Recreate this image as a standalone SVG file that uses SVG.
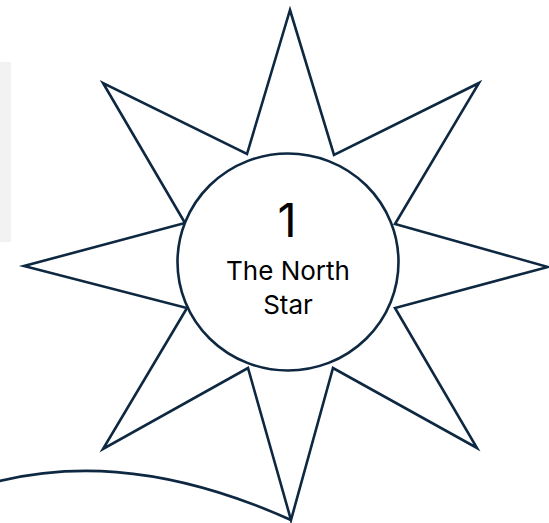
<svg xmlns="http://www.w3.org/2000/svg" width="549" height="523" viewBox="0 0 549 523">
<style>
.ln{fill:none;stroke:#0e2841;stroke-width:2.6;stroke-linejoin:miter}
.fl{fill:#ffffff;stroke:#0e2841;stroke-width:2.6}
.t{font-family:"Inter","Liberation Sans",sans-serif;fill:#000000;text-anchor:middle}
</style>
<rect id="panel" x="0" y="62" width="11" height="180" fill="#f2f2f2"/>
<g id="connectors">
<path class="ln" d="M -5 482 C 60 466, 155 459, 291 520"/>
</g>
<g id="star">
<polygon class="fl" points="290,10 334,155 479,83 395,224 548,267 395,308 477,448 333,368 291,520 248,368 103,449 187,308 24,266 185,223 103,83 247,154"/>
</g>
<g id="node1">
<ellipse class="fl" cx="288" cy="262" rx="110.5" ry="108.5"/>
<text class="t" x="287" y="237" font-size="47">1</text>
<text class="t" x="288" y="280" font-size="26">The North</text>
<text class="t" x="288" y="314" font-size="26">Star</text>
</g>
</svg>
